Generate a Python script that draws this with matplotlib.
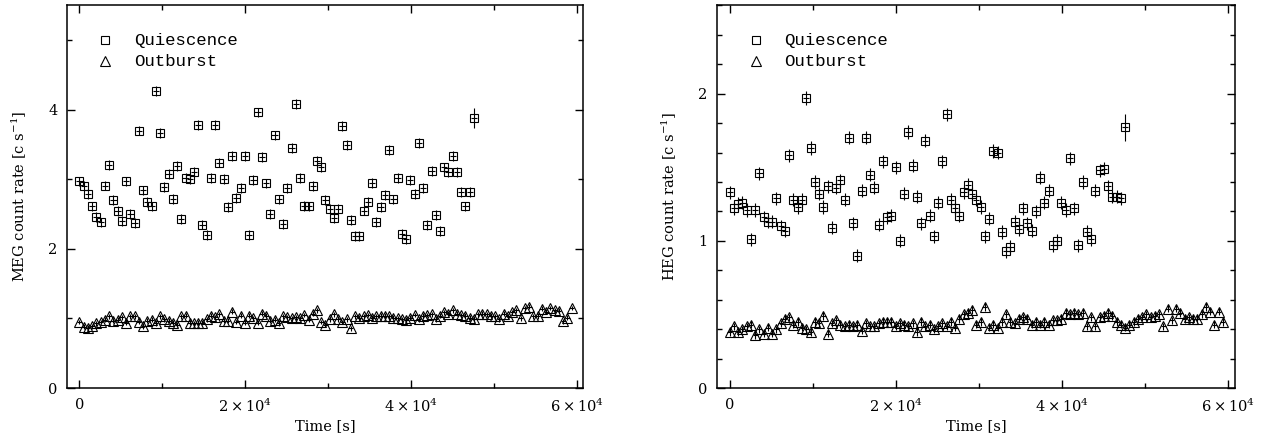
import matplotlib
matplotlib.use("Agg")
import matplotlib.pyplot as plt
from matplotlib.ticker import FixedLocator, MultipleLocator

# time bins [s] (512 s bins)
time_bins = [
    0, 512, 1024, 1536, 2048, 2560, 3072, 3584, 4096, 4608,
    5120, 5632, 6144, 6656, 7168, 7680, 8192, 8704, 9216, 9728,
    10240, 10752, 11264, 11776, 12288, 12800, 13312, 13824, 14336, 14848,
    15360, 15872, 16384, 16896, 17408, 17920, 18432, 18944, 19456, 19968,
    20480, 20992, 21504, 22016, 22528, 23040, 23552, 24064, 24576, 25088,
    25600, 26112, 26624, 27136, 27648, 28160, 28672, 29184, 29696, 30208,
    30720, 31232, 31744, 32256, 32768, 33280, 33792, 34304, 34816, 35328,
    35840, 36352, 36864, 37376, 37888, 38400, 38912, 39424, 39936, 40448,
    40960, 41472, 41984, 42496, 43008, 43520, 44032, 44544, 45056, 45568,
    46080, 46592, 47104, 47616, 48128, 48640, 49152, 49664, 50176, 50688,
    51200, 51712, 52224, 52736, 53248, 53760, 54272, 54784, 55296, 55808,
    56320, 56832, 57344, 57856, 58368, 58880, 59392,
]

# MEG count rates
meg_quiescence = [
    2.97, 2.91, 2.79, 2.61, 2.46, 2.38, 2.91, 3.21, 2.70, 2.54,
    2.40, 2.97, 2.50, 2.37, 3.70, 2.84, 2.67, 2.61, 4.27, 3.67,
    2.89, 3.08, 2.72, 3.19, 2.43, 3.02, 3.00, 3.11, 3.78, 2.35,
    2.20, 3.02, 3.78, 3.24, 3.00, 2.60, 3.33, 2.73, 2.87, 3.33,
    2.20, 2.99, 3.96, 3.32, 2.94, 2.50, 3.63, 2.71, 2.36, 2.87,
    3.45, 4.08, 3.02, 2.62, 2.61, 2.90, 3.26, 3.17, 2.70, 2.57,
    2.44, 2.57, 3.77, 3.49, 2.42, 2.19, 2.18, 2.55, 2.68, 2.95,
    2.39, 2.60, 2.77, 3.42, 2.71, 3.02, 2.22, 2.14, 2.99, 2.79,
    3.52, 2.87, 2.34, 3.12, 2.49, 2.26, 3.17, 3.10, 3.33, 3.11,
    2.82, 2.61, 2.82, 3.88,
]
meg_quiescence_err = [0.07] * 93 + [0.14]

meg_outburst = [
    0.95, 0.88, 0.87, 0.89, 0.93, 0.95, 0.98, 1.03, 0.97, 0.98,
    1.02, 0.94, 1.03, 1.03, 0.95, 0.89, 0.97, 0.98, 0.93, 1.03,
    0.99, 0.97, 0.94, 0.91, 1.03, 1.04, 0.94, 0.93, 0.94, 0.94,
    0.99, 1.04, 1.02, 1.06, 0.97, 0.97, 1.10, 0.95, 1.04, 0.94,
    1.04, 1.00, 0.94, 1.07, 1.04, 0.97, 0.98, 0.93, 1.03, 1.02,
    1.00, 1.02, 1.00, 1.05, 0.98, 1.07, 1.12, 0.95, 0.91, 0.99,
    1.06, 0.99, 0.95, 0.99, 0.86, 1.03, 1.01, 1.03, 1.05, 1.01,
    1.03, 1.04, 1.04, 1.03, 1.01, 1.00, 0.99, 0.98, 1.01, 1.05,
    0.99, 1.04, 1.05, 1.06, 0.99, 1.04, 1.09, 1.07, 1.12, 1.07,
    1.05, 1.04, 1.01, 0.99, 1.06, 1.07, 1.06, 1.04, 1.03, 0.99,
    1.07, 1.03, 1.09, 1.12, 1.00, 1.15, 1.17, 1.03, 1.03, 1.14,
    1.10, 1.15, 1.12, 1.11, 0.96, 1.01, 1.15,
]
meg_outburst_err = [0.035] * 117

# HEG count rates
heg_quiescence = [
    1.33, 1.22, 1.25, 1.26, 1.21, 1.01, 1.21, 1.46, 1.16, 1.13,
    1.13, 1.29, 1.10, 1.07, 1.58, 1.28, 1.23, 1.28, 1.97, 1.63,
    1.40, 1.32, 1.23, 1.37, 1.09, 1.36, 1.41, 1.28, 1.70, 1.12,
    0.90, 1.34, 1.70, 1.45, 1.36, 1.11, 1.54, 1.16, 1.17, 1.50,
    1.00, 1.32, 1.74, 1.51, 1.30, 1.12, 1.68, 1.17, 1.03, 1.26,
    1.54, 1.86, 1.28, 1.22, 1.17, 1.33, 1.38, 1.32, 1.28, 1.23,
    1.03, 1.15, 1.61, 1.60, 1.06, 0.93, 0.96, 1.13, 1.08, 1.22,
    1.12, 1.07, 1.20, 1.43, 1.26, 1.34, 0.97, 1.00, 1.26, 1.21,
    1.56, 1.22, 0.97, 1.40, 1.06, 1.01, 1.34, 1.48, 1.49, 1.37,
    1.30, 1.30, 1.29, 1.77,
]
heg_quiescence_err = [0.045] * 93 + [0.095]

heg_outburst = [
    0.38, 0.42, 0.38, 0.40, 0.42, 0.43, 0.36, 0.40, 0.37, 0.41,
    0.37, 0.40, 0.44, 0.47, 0.48, 0.43, 0.45, 0.41, 0.40, 0.38,
    0.45, 0.44, 0.49, 0.37, 0.44, 0.46, 0.43, 0.42, 0.43, 0.42,
    0.43, 0.39, 0.44, 0.42, 0.42, 0.44, 0.45, 0.45, 0.45, 0.42,
    0.44, 0.43, 0.42, 0.44, 0.38, 0.45, 0.42, 0.43, 0.40, 0.42,
    0.44, 0.42, 0.45, 0.41, 0.47, 0.50, 0.51, 0.53, 0.43, 0.45,
    0.55, 0.41, 0.43, 0.41, 0.45, 0.50, 0.45, 0.44, 0.47, 0.48,
    0.47, 0.43, 0.45, 0.43, 0.45, 0.43, 0.46, 0.46, 0.47, 0.51,
    0.50, 0.51, 0.50, 0.51, 0.42, 0.48, 0.42, 0.48, 0.49, 0.51,
    0.49, 0.45, 0.43, 0.41, 0.43, 0.45, 0.47, 0.48, 0.50, 0.48,
    0.49, 0.50, 0.42, 0.54, 0.46, 0.54, 0.51, 0.47, 0.48, 0.47,
    0.47, 0.50, 0.55, 0.52, 0.43, 0.52, 0.45,
]
heg_outburst_err = [0.025] * 117

x_ticks = [0, 20000, 40000, 60000]
x_tick_labels = ["0", r"$2\times10^4$", r"$4\times10^4$", r"$6\times10^4$"]

plt.rcParams["font.family"] = "DejaVu Serif"
plt.rcParams["mathtext.fontset"] = "dejavuserif"
plt.rcParams["font.size"] = 10.5


def draw_panel(ax, rate_q, err_q, rate_o, err_o, ylabel, ymax, ymajor, yminor):
    tq = time_bins[:len(rate_q)]
    to = time_bins[:len(rate_o)]
    ax.errorbar(tq, rate_q, yerr=err_q, xerr=380, fmt="s", ms=6,
                mfc="none", mec="black", mew=0.8, ecolor="black",
                elinewidth=0.8, capsize=0)
    ax.errorbar(to, rate_o, yerr=err_o, xerr=300, fmt="^", ms=6.5,
                mfc="none", mec="black", mew=0.8, ecolor="black",
                elinewidth=0.8, capsize=0)

    ax.set_xlim(-1500, 60800)
    ax.set_ylim(0, ymax)
    ax.xaxis.set_major_locator(FixedLocator(x_ticks))
    ax.set_xticklabels(x_tick_labels)
    ax.xaxis.set_minor_locator(MultipleLocator(10000))
    ax.yaxis.set_major_locator(MultipleLocator(ymajor))
    ax.yaxis.set_minor_locator(MultipleLocator(yminor))
    ax.tick_params(which="both", direction="in", top=True, right=True,
                   width=1.0, labelsize=10.5)
    ax.tick_params(which="major", length=6, pad=7)
    ax.tick_params(which="minor", length=3.5)
    for s in ax.spines.values():
        s.set_linewidth(1.1)

    ax.set_xlabel("Time [s]", labelpad=3)
    ax.set_ylabel(ylabel, labelpad=14)

    # legend drawn by hand, PGPLOT style
    ax.plot([0.074], [0.909], "s", ms=6, mfc="none", mec="black", mew=0.8,
            transform=ax.transAxes, clip_on=False)
    ax.plot([0.074], [0.854], "^", ms=6.5, mfc="none", mec="black", mew=0.8,
            transform=ax.transAxes, clip_on=False)
    ax.text(0.13, 0.909, "Quiescence", family="Liberation Mono", fontsize=12.5,
            va="center", ha="left", transform=ax.transAxes)
    ax.text(0.13, 0.854, "Outburst", family="Liberation Mono", fontsize=12.5,
            va="center", ha="left", transform=ax.transAxes)


fig = plt.figure(figsize=(12.65, 4.41), dpi=100)
ax1 = fig.add_axes([0.053, 0.120, 0.408, 0.868])
ax2 = fig.add_axes([0.567, 0.120, 0.409, 0.868])

draw_panel(ax1, meg_quiescence, meg_quiescence_err, meg_outburst,
           meg_outburst_err, r"MEG count rate [c s$^{-1}$]", 5.5, 2, 1)
draw_panel(ax2, heg_quiescence, heg_quiescence_err, heg_outburst,
           heg_outburst_err, r"HEG count rate [c s$^{-1}$]", 2.6, 1, 0.2)

fig.savefig("out.png", dpi=100)
